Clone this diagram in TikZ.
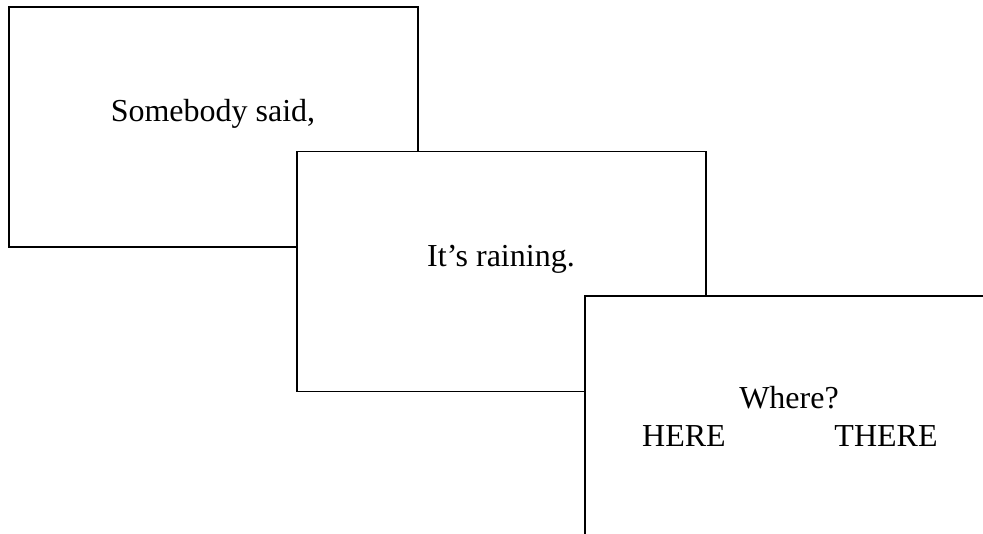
\documentclass[tikz,border=0pt]{standalone}
\usepackage{fontspec}
\setmainfont{Liberation Serif}
\begin{document}
\begin{tikzpicture}[x=1pt,y=-1pt,
  card/.style={draw=black,line width=1.8pt,fill=white,rectangle,inner sep=0pt,
    minimum width=409pt,minimum height=240pt},
  txt/.style={anchor=base,inner sep=0pt,font=\fontsize{32}{38}\selectfont}]
\useasboundingbox (0,0) rectangle (983,534);
\clip (0,0) rectangle (983,534);
\node[card] (c1) at (213.5,127) {};
\node[txt] (t1) at (213,122) {Somebody said,};
\node[card] (c2) at (501.5,271.5) {};
\node[txt] (t2) at (501,267) {It’s raining.};
\node[card] (c3) at (789.5,416) {};
\node[txt] (t3) at (789,409) {Where?};
\node[txt] (t4) at (684,447) {HERE};
\node[txt] (t5) at (886,447) {THERE};
\end{tikzpicture}
\end{document}
